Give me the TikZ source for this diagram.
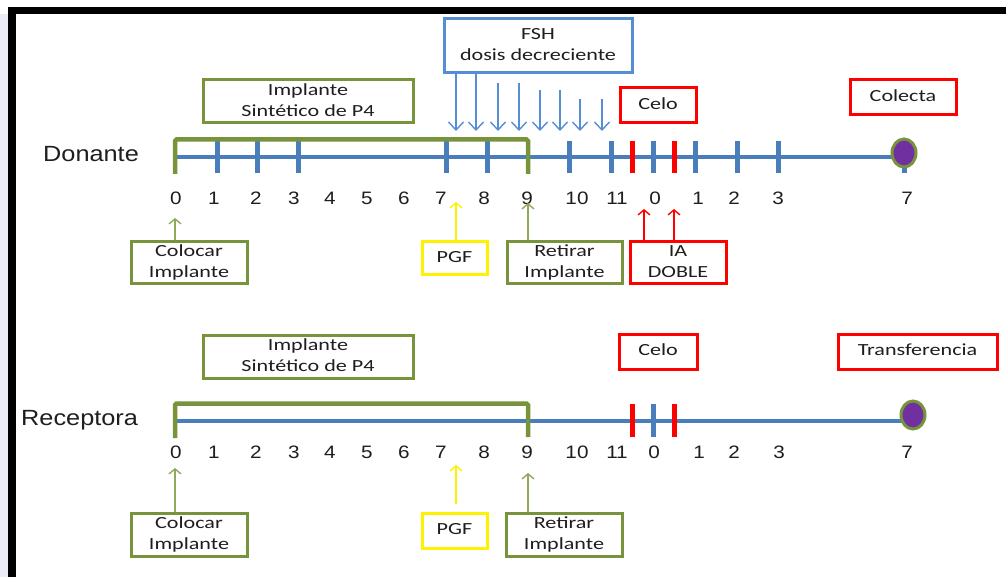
\documentclass[tikz,border=0pt]{standalone}
\usepackage{graphicx}
\usepackage{fontspec}
\setmainfont{Carlito}
\newfontfamily\arialf{Liberation Sans}
\usetikzlibrary{arrows.meta,shapes.geometric}
\definecolor{lblue}{HTML}{4A7EBB}
\definecolor{fblue}{HTML}{558ED5}
\definecolor{ogreen}{HTML}{77933C}
\definecolor{agreen}{HTML}{8FAA5C}
\definecolor{ppurple}{HTML}{7030A0}
\definecolor{lav}{HTML}{ECECF6}
\definecolor{txt}{HTML}{1E1E1E}
\newcommand{\bxt}[1]{\scalebox{1.3}[1]{\begin{tabular}{@{}c@{}}#1\end{tabular}}}
\newcommand{\numt}[1]{\scalebox{1.15}[1]{#1}}
\tikzset{
  boxs/.style={draw=#1, line width=3pt, fill=white, inner sep=0pt, text=txt,
    font=\fontsize{17}{21}\selectfont},
  numn/.style={anchor=base, inner sep=0pt, text=txt, font=\arialf\fontsize{18}{18}\selectfont},
  lbln/.style={anchor=base west, inner sep=0pt, text=txt, font=\arialf\fontsize{22}{22}\selectfont},
  axis/.style={draw=lblue, line width=4.5pt},
  btick/.style={draw=lblue, line width=5pt},
  rtick/.style={draw=red, line width=5pt},
  brack/.style={draw=ogreen, line width=4.5pt, rounded corners=1.5pt},
  garr/.style={draw=agreen, line width=1.4pt, -{Straight Barb[length=5pt,width=12pt]}},
  yarr/.style={draw=yellow, line width=1.4pt, -{Straight Barb[length=5pt,width=12pt]}},
  rarr/.style={draw=red, line width=1.4pt, -{Straight Barb[length=5pt,width=12pt]}},
  farr/.style={draw=fblue, line width=1.4pt, -{Straight Barb[length=8pt,width=15pt]}},
  embryo/.style={ellipse, draw=ogreen, line width=3pt, fill=ppurple, minimum width=24pt, minimum height=28pt, inner sep=0pt}
}
\begin{document}
\begin{tikzpicture}[x=1pt,y=-1pt]
\useasboundingbox (0,0) rectangle (1006,577);
% frame
\fill[white] (0,0) rectangle (1006,577);
\fill[lav] (0,14) rectangle (8,577);
\fill[black] (8,7) rectangle (1006,14.5);
\fill[black] (8,7) rectangle (15.5,577);

% ================= DONANTE =================
\node[lbln] (donante) at (43,162) {\numt{Donante}};
\draw[axis] (175,157) -- (904,157);
\foreach \x in {217,257,298,446,487,569,611,653,695,737,778,904}
  \draw[btick] (\x,141) -- (\x,173);
\foreach \x in {632,674}
  \draw[rtick] (\x,141) -- (\x,173);
\draw[brack] (175,174) -- (175,139.5) -- (528,139.5) -- (528,174);
\node[embryo] (colecD) at (904,153) {};

\foreach \x/\t [count=\i] in {176/0,214/1,256/2,294/3,330/4,367/5,404/6,441/7,484/8,527/9,577/10,617/11,655/0,698/1,734/2,778/3,907/7}
  \node[numn] (nd\i) at (\x,205) {\numt{\t}};

\node[boxs=ogreen, minimum width=210pt, minimum height=43pt] (impD) at (308,101.5) {\bxt{Implante\\Sintético de P4}};
\node[boxs=fblue, minimum width=188pt, minimum height=54pt] (fsh) at (538,46) {\bxt{FSH\\dosis decreciente}};
\node[boxs=red, minimum width=76pt, minimum height=35pt] (celoD) at (658,105.5) {\bxt{Celo}};
\node[boxs=red, minimum width=106pt, minimum height=35pt] (colecta) at (903,97.5) {\bxt{Colecta}};
\node[boxs=ogreen, minimum width=116pt, minimum height=41pt] (colocD) at (189,262.5) {\bxt{Colocar\\Implante}};
\node[boxs=yellow, minimum width=65pt, minimum height=33pt] (pgfD) at (454.5,258.5) {\bxt{PGF}};
\node[boxs=ogreen, minimum width=115pt, minimum height=41pt] (retD) at (564.5,262.5) {\bxt{Retirar\\Implante}};
\node[boxs=red, minimum width=96pt, minimum height=41pt] (iaD) at (678,262.5) {\bxt{IA\\DOBLE}};

% FSH arrows
\foreach \x/\s [count=\i] in {456/0,476/0,498/9,519/9,540/16,560/16,580/25,602/25} {
  \coordinate (f\i) at (\x,131);
  \draw[farr, shorten <=\s pt] (fsh.south -| f\i) -- (f\i);
}
% lower arrows
\coordinate (tcD) at (175,218);
\coordinate (tpD) at (456,202);
\coordinate (trD) at (528,203);
\coordinate (tiD1) at (644,209);
\coordinate (tiD2) at (674,209);
\draw[garr] (colocD.north -| tcD) -- (tcD);
\draw[yarr] (pgfD.north -| tpD) -- (tpD);
\draw[garr] (retD.north -| trD) -- (trD);
\draw[rarr] (iaD.north -| tiD1) -- (tiD1);
\draw[rarr] (iaD.north -| tiD2) -- (tiD2);

% ================= RECEPTORA =================
\node[lbln] (receptora) at (21,425) {\numt{Receptora}};
\draw[axis] (175,421) -- (913,421);
\draw[btick] (653,404) -- (653,437);
\foreach \x in {632,674}
  \draw[rtick] (\x,404) -- (\x,437);
\draw[brack] (175,438) -- (175,403.5) -- (528,403.5) -- (528,437);
\node[embryo] (transR) at (913,415) {};

\foreach \x/\t [count=\i] in {176/0,214/1,256/2,294/3,330/4,367/5,404/6,441/7,484/8,527/9,577/10,617/11,654/0,699/1,734/2,779/3,907/7}
  \node[numn] (nr\i) at (\x,458.5) {\numt{\t}};

\node[boxs=ogreen, minimum width=210pt, minimum height=43pt] (impR) at (308,356.5) {\bxt{Implante\\Sintético de P4}};
\node[boxs=red, minimum width=78pt, minimum height=35pt] (celoR) at (658,351.5) {\bxt{Celo}};
\node[boxs=red, minimum width=159pt, minimum height=35pt] (transf) at (917.5,351.5) {\bxt{Transferencia}};
\node[boxs=ogreen, minimum width=116pt, minimum height=43pt] (colocR) at (189,534.5) {\bxt{Colocar\\Implante}};
\node[boxs=yellow, minimum width=65pt, minimum height=35pt] (pgfR) at (454.5,530.5) {\bxt{PGF}};
\node[boxs=ogreen, minimum width=116pt, minimum height=43pt] (retR) at (564,534.5) {\bxt{Retirar\\Implante}};

\coordinate (tcR) at (175,468);
\coordinate (tpR) at (456,465);
\coordinate (trR) at (528,473);
\draw[garr] (colocR.north -| tcR) -- (tcR);
\draw[yarr, shorten <=8pt] (pgfR.north -| tpR) -- (tpR);
\draw[garr] (retR.north -| trR) -- (trR);
\end{tikzpicture}
\end{document}
